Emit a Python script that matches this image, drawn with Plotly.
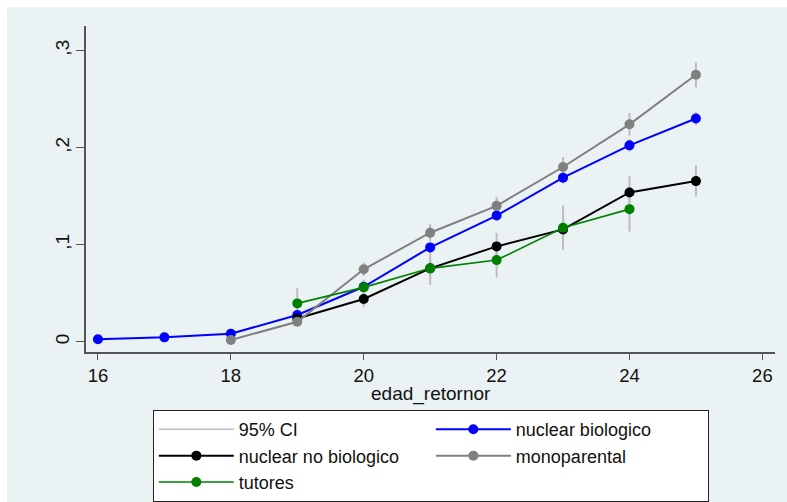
import plotly.graph_objects as go

# ---- data ----
ages_bio = [16, 17, 18, 19, 20, 21, 22, 23, 24, 25]
nuclear_bio = [0.0025, 0.0045, 0.0082, 0.0275, 0.0566, 0.0972, 0.130, 0.169, 0.2023, 0.230]
nuclear_bio_ci = [0.001, 0.001, 0.0015, 0.003, 0.003, 0.004, 0.005, 0.006, 0.0065, 0.007]

ages_nobio = [19, 20, 21, 22, 23, 24, 25]
nuclear_nobio = [0.024, 0.044, 0.0756, 0.0982, 0.1157, 0.1538, 0.1655]
nuclear_nobio_ci = [0.004, 0.008, 0.011, 0.014, 0.012, 0.017, 0.016]

ages_mono = [18, 19, 20, 21, 22, 23, 24, 25]
monoparental = [0.0018, 0.0206, 0.0746, 0.1123, 0.140, 0.180, 0.224, 0.275]
monoparental_ci = [0.001, 0.004, 0.007, 0.009, 0.0094, 0.0103, 0.0117, 0.0129]

ages_tut = [19, 20, 21, 22, 23, 24]
tutores = [0.0395, 0.056, 0.0756, 0.0841, 0.1174, 0.1366]
tutores_ci = [0.016, 0.008, 0.017, 0.018, 0.023, 0.023]

y_tickvals = [0, 0.1, 0.2, 0.3]
y_ticktext = ["0", ",1", ",2", ",3"]
x_tickvals = [16, 18, 20, 22, 24, 26]
x_title = "edad_retornor"

series = [
    ("nuclear biologico", ages_bio, nuclear_bio, nuclear_bio_ci, "#0000FF", 2),
    ("nuclear no biologico", ages_nobio, nuclear_nobio, nuclear_nobio_ci, "#000000", 2),
    ("monoparental", ages_mono, monoparental, monoparental_ci, "#808080", 2),
    ("tutores", ages_tut, tutores, tutores_ci, "#008000", 1.6),
]

CI_COLOR = "#BDBDBD"
FONT = "Liberation Sans, Arial, sans-serif"
TXT = "#111111"

fig = go.Figure()

# CI bars first (under the lines)
for name, x, y, ci, color, lw in series:
    fig.add_trace(go.Scatter(
        x=x, y=y, mode="markers",
        marker=dict(size=0.1, color="rgba(0,0,0,0)"),
        error_y=dict(type="data", array=ci, visible=True, color=CI_COLOR,
                     thickness=2, width=0),
        showlegend=False, hoverinfo="skip"))

# legend entry for CI
fig.add_trace(go.Scatter(x=[None], y=[None], mode="lines",
                         line=dict(color=CI_COLOR, width=1.5), name="95% CI"))

for name, x, y, ci, color, lw in series:
    fig.add_trace(go.Scatter(
        x=x, y=y, mode="lines+markers", name=name,
        line=dict(color=color, width=lw),
        marker=dict(color=color, size=10)))

fig.update_layout(
    width=787, height=502,
    margin=dict(l=86, r=12, t=26, b=150, autoexpand=False),
    paper_bgcolor="white",
    plot_bgcolor="white",
    font=dict(family=FONT, size=18, color=TXT),
    showlegend=True,
    legend=dict(
        orientation="h",
        x=0.097, xanchor="left",
        y=-0.178, yanchor="top",
        bgcolor="white",
        bordercolor="#222222", borderwidth=1,
        entrywidth=187, entrywidthmode="pixels",
        font=dict(family=FONT, size=18, color=TXT),
        traceorder="normal",
        itemwidth=75,
    ),
    shapes=[dict(type="rect", xref="paper", yref="paper",
                 x0=-(86 - 7) / 689, x1=1 + 12 / 689,
                 y0=-150 / 326, y1=1 + (26 - 7) / 326,
                 fillcolor="#EAF2F3", line=dict(width=0), layer="below")],
    annotations=[dict(text=x_title, xref="paper", yref="paper",
                      x=0.5, y=-42 / 326, xanchor="center", yanchor="middle",
                      showarrow=False,
                      font=dict(family=FONT, size=19, color=TXT))],
)

fig.update_xaxes(
    range=[15.82, 26.19],
    tickvals=x_tickvals,
    ticks="outside", ticklen=6, tickcolor="#555555", tickwidth=1,
    showline=True, linecolor="#555555", linewidth=1.5,
    showgrid=False, zeroline=False,
    tickfont=dict(family=FONT, size=18.5, color=TXT),
)
fig.update_yaxes(
    range=[-0.0106, 0.3253],
    tickvals=y_tickvals, ticktext=y_ticktext,
    tickangle=-90,
    ticks="outside", ticklen=8, tickcolor="#555555", tickwidth=1,
    showline=True, linecolor="#555555", linewidth=1.5,
    showgrid=True, gridcolor="#EAF2F3", gridwidth=1.5,
    zeroline=False,
    tickfont=dict(family=FONT, size=19, color=TXT),
)

fig.write_html("out.html")
